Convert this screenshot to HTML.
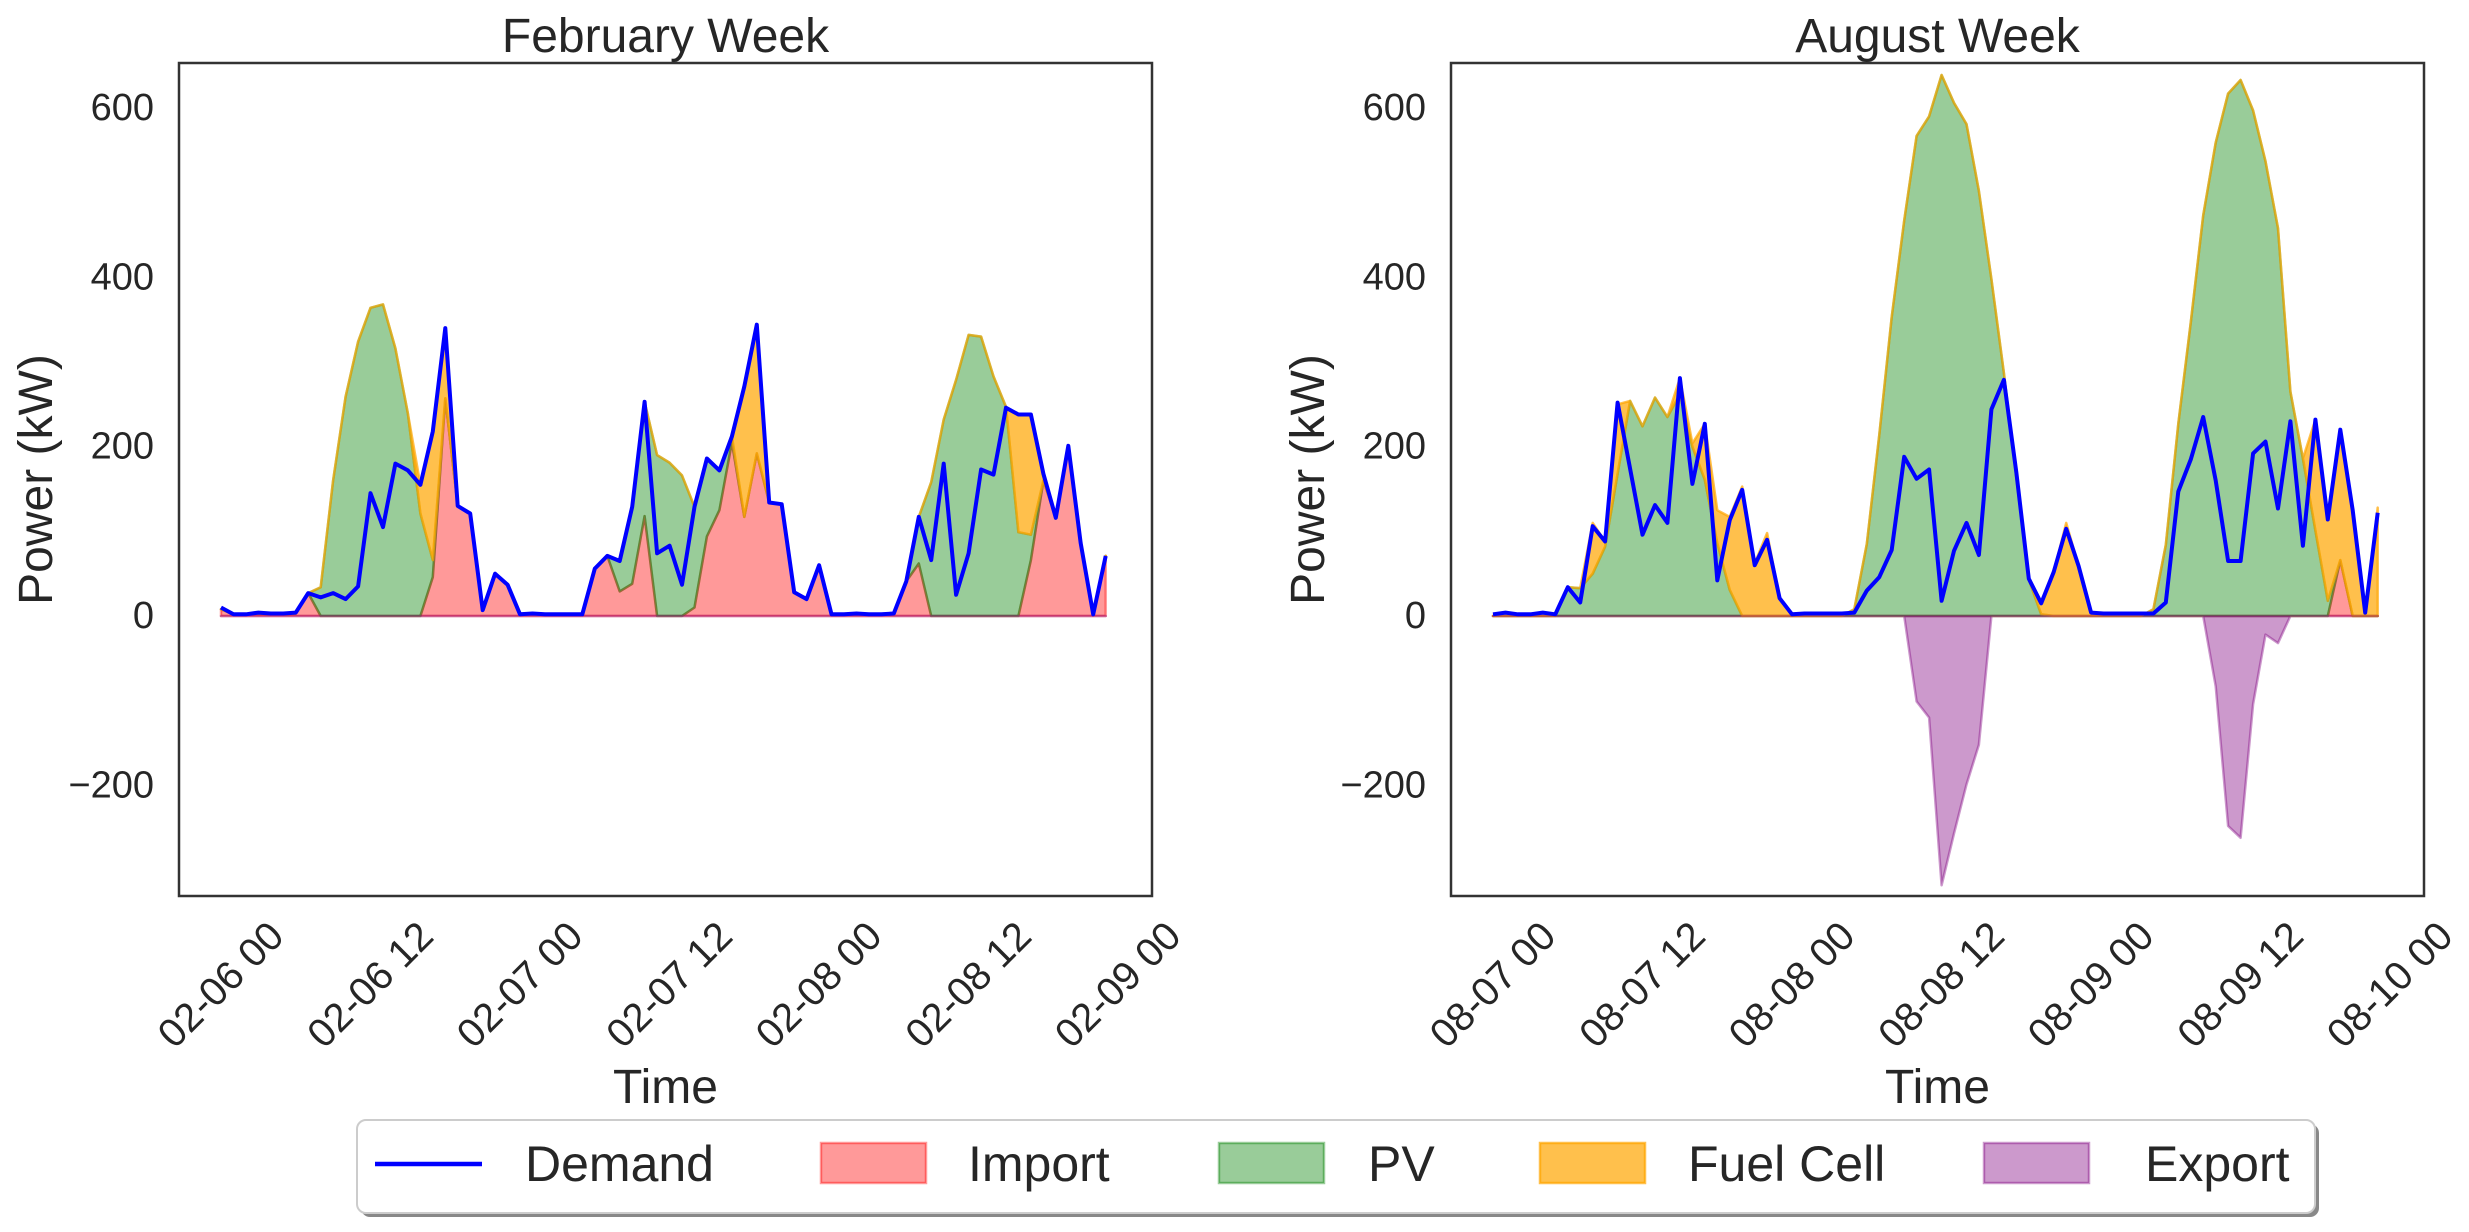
<!DOCTYPE html>
<html><head><meta charset="utf-8"><style>
html,body{margin:0;padding:0;background:#fff;}
svg{display:block;font-family:"Liberation Sans",Arial,sans-serif;}
</style></head><body>
<svg id="chart" width="2469" height="1232" viewBox="0 0 2469 1232" xmlns="http://www.w3.org/2000/svg">
<g id="layer"></g>
</svg>
<script>
// ---- data (hourly, 72 points each) ----
const febDemand = [10,2,2,4,3,3,4,27,22,27,20,35,145,105,180,172,155,218,340,130,121,7,50,37,2,
3,2,2,2,2,56,71,65,129,253,74,83,37,129,186,172,212,271,344,134,132,28,20,60,2,
2,3,2,2,3,41,117,66,180,25,74,173,167,246,238,238,168,116,201,86,2,71];
const febImport = [8,2,2,3,2,2,3,27,0,0,0,0,0,0,0,0,0,46,257,130,121,7,50,37,2,
3,2,2,2,2,56,71,29,38,118,0,0,0,10,94,125,205,117,192,134,132,28,20,60,2,
2,3,2,2,3,41,62,0,0,0,0,0,0,0,0,66,160,116,201,86,2,71];
const febPV = [0,0,0,0,0,0,0,0,34,160,259,324,364,368,316,239,121,20,0,0,0,0,0,0,0,
0,0,0,0,0,0,0,36,91,135,190,181,166,119,92,47,7,0,0,0,0,0,0,0,0,
0,0,0,0,0,0,55,158,232,279,332,330,283,247,99,30,0,0,0,0,0,0];
const febFC = [0,0,0,0,0,0,0,0,0,0,0,0,0,0,0,0,34,152,83,0,0,0,0,0,0,
0,0,0,0,0,0,0,0,0,0,0,0,0,0,0,0,0,154,152,0,0,0,0,0,0,
0,0,0,0,0,0,0,0,0,0,0,0,0,0,139,142,8,0,0,0,0,0];
const febExport = new Array(72).fill(0);

const augDemand = [2,4,2,2,4,2,34,16,106,88,252,174,96,131,110,281,156,227,42,113,149,60,90,21,2,
3,3,3,3,4,30,46,78,188,162,173,18,77,110,72,244,279,170,44,15,52,103,59,4,3,
3,3,3,3,16,147,185,235,160,65,65,192,206,127,230,83,232,114,220,125,4,122];
const augImport = [0,0,0,0,0,0,0,0,0,0,0,0,0,0,0,0,0,0,0,0,0,0,0,0,0,
0,0,0,0,0,0,0,0,0,0,0,0,0,0,0,0,0,0,0,0,0,0,0,0,0,
0,0,0,0,0,0,0,0,0,0,0,0,0,0,0,0,0,0,66,0,0,0];
const augPV = [0,0,0,0,0,0,34,33,50,82,168,254,224,258,235,262,200,161,86,31,0,0,0,0,0,
0,0,0,0,8,85,214,353,467,567,590,639,606,581,502,398,287,164,43,2,0,0,0,0,0,
0,0,0,8,84,227,347,473,559,617,633,597,537,458,265,186,101,18,0,0,0,0];
const augFC = [0,0,0,0,0,0,0,0,60,6,82,0,0,0,0,19,4,66,39,86,153,62,98,21,0,
0,0,0,0,0,0,0,0,0,0,0,0,0,0,0,0,0,0,0,13,52,110,59,4,0,
0,0,0,0,0,0,0,0,0,0,0,0,0,0,0,0,131,96,154,125,2,128];
const augExport = [0,0,0,0,0,0,0,0,0,0,0,0,0,0,0,0,0,0,0,0,0,0,0,0,0,
0,0,0,0,0,0,0,0,0,-101,-120,-318,-257,-199,-152,0,0,0,0,0,0,0,0,0,0,
0,0,0,0,0,0,0,0,-83,-248,-262,-104,-22,-32,0,0,0,0,0,0,0,0];

const yTicks = [600,400,200,0,-200];
const febTickLabels = ["02-06 00","02-06 12","02-07 00","02-07 12","02-08 00","02-08 12","02-09 00"];
const augTickLabels = ["08-07 00","08-07 12","08-08 00","08-08 12","08-09 00","08-09 12","08-10 00"];

const NS = "http://www.w3.org/2000/svg";
const root = document.getElementById('layer');
function mk(tag, attrs, parent){
  const e = document.createElementNS(NS, tag);
  for (const k in attrs) e.setAttribute(k, attrs[k]);
  (parent||root).appendChild(e);
  return e;
}
const Y0 = 616, YS = 0.8467, AX_TOP = 63, AX_BOT = 896, AX_W = 973, DX = 12.46;
function yv(v){ return Y0 - v*YS; }

function drawPanel(p){
  const g = mk('g', {});
  
  
  const L = p.left, x0 = L + 42;
  const xh = h => x0 + h*DX;
  const n = p.demand.length;
  const band = (lo, hi, fill, stroke, nm) => {
    let d = '';
    for (let i=0;i<n;i++) d += (i?'L':'M') + xh(i).toFixed(1) + ',' + yv(hi[i]).toFixed(1);
    for (let i=n-1;i>=0;i--) d += 'L' + xh(i).toFixed(1) + ',' + yv(lo[i]).toFixed(1);
    const e = mk('path', {d: d+'Z', fill: fill, stroke: stroke, 'stroke-width': 2.5, 'stroke-linejoin':'round'}, g);
    
    
  };
  const zero = new Array(n).fill(0);
  const c1 = p.imp.slice();
  const c2 = c1.map((v,i)=>v+p.pv[i]);
  const c3 = c2.map((v,i)=>v+p.fc[i]);
  band(zero, c1, 'rgba(255,0,0,0.4)', 'rgba(255,0,0,0.4)', 'import-area');
  band(c1, c2, 'rgba(0,128,0,0.4)', 'rgba(0,128,0,0.4)', 'pv-area');
  band(c2, c3, 'rgba(255,165,0,0.7)', 'rgba(255,165,0,0.7)', 'fuel-cell-area');
  band(zero, p.exp, 'rgba(128,0,128,0.4)', 'rgba(128,0,128,0.4)', 'export-area');
  let d = '';
  for (let i=0;i<n;i++) d += (i?'L':'M') + xh(i).toFixed(1) + ',' + yv(p.demand[i]).toFixed(1);
  const ln = mk('path', {d: d, fill:'none', stroke:'#0000ff', 'stroke-width':4, 'stroke-linejoin':'round'}, g);
  
  
  const fr = mk('rect', {x:L, y:AX_TOP, width:AX_W, height:AX_BOT-AX_TOP, fill:'none', stroke:'#333', 'stroke-width':2.5}, g);
  
  
  yTicks.forEach(v=>{
    const t = mk('text', {x:L-25, y:yv(v), 'font-size':38, fill:'#262626', 'text-anchor':'end', 'dominant-baseline':'central'}, g);
    t.textContent = v < 0 ? '\u2212' + Math.abs(v) : String(v);
    
    
  });
  p.ticks.forEach((lab,i)=>{
    const tx = xh(i*12), ty = 985;
    const t = mk('text', {x:tx, y:ty, 'font-size':40, fill:'#262626', 'text-anchor':'middle', 'dominant-baseline':'central', transform:'rotate(-45 '+tx+' '+ty+')'}, g);
    t.textContent = lab;
    
    
  });
  const ti = mk('text', {x:L+AX_W/2, y:52, 'font-size':48, fill:'#262626', 'text-anchor':'middle'}, g);
  ti.textContent = p.title;
  
  
  const xl = mk('text', {x:L+AX_W/2, y:1103, 'font-size':48, fill:'#262626', 'text-anchor':'middle'}, g);
  xl.textContent = 'Time';
  
  
  const yx = p.ylabX, yy = (AX_TOP+AX_BOT)/2;
  const yl = mk('text', {x:yx, y:yy, 'font-size':48, fill:'#262626', 'text-anchor':'middle', transform:'rotate(-90 '+yx+' '+yy+')'}, g);
  yl.textContent = 'Power (kW)';
  
  
}

drawPanel({name:'february-panel', left:179, title:'February Week', ticks:febTickLabels, ylabX:52,
  demand:febDemand, imp:febImport, pv:febPV, fc:febFC, exp:febExport});
drawPanel({name:'august-panel', left:1451, title:'August Week', ticks:augTickLabels, ylabX:1324,
  demand:augDemand, imp:augImport, pv:augPV, fc:augFC, exp:augExport});

const lg = mk('g', {});


mk('rect', {x:361, y:1124, width:1958, height:93, rx:9, fill:'#888'}, lg);
mk('rect', {x:357, y:1120, width:1958, height:93, rx:9, fill:'#fff', stroke:'#cccccc', 'stroke-width':2}, lg);
const dl = mk('line', {x1:375, y1:1164, x2:482, y2:1164, stroke:'#0000ff', 'stroke-width':4.5}, lg);


const items = [
  {label:'Demand', tx:525, sw:null},
  {label:'Import', tx:968, sw:[821,'rgba(255,0,0,0.4)']},
  {label:'PV', tx:1368, sw:[1219,'rgba(0,128,0,0.4)']},
  {label:'Fuel Cell', tx:1688, sw:[1540,'rgba(255,165,0,0.7)']},
  {label:'Export', tx:2145, sw:[1984,'rgba(128,0,128,0.4)']}
];
items.forEach(it=>{
  if (it.sw){
    const r = mk('rect', {x:it.sw[0], y:1143, width:105, height:40, fill:it.sw[1], stroke:it.sw[1], 'stroke-width':2.5}, lg);
    
    
  }
  const t = mk('text', {x:it.tx, y:1181, 'font-size':50, fill:'#262626'}, lg);
  t.textContent = it.label;
  
  
});
</script>
</body></html>
